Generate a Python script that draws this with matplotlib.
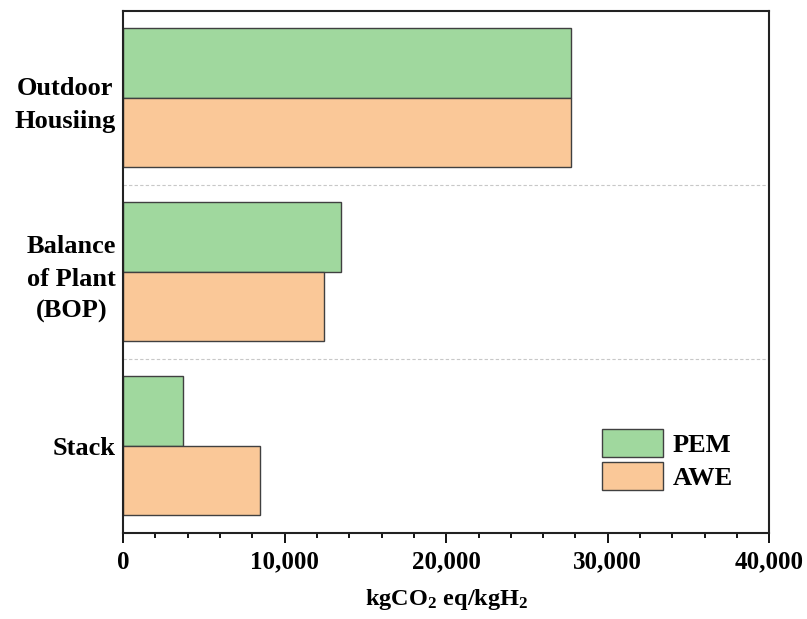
import matplotlib.pyplot as plt
from matplotlib.ticker import MultipleLocator, FuncFormatter
import numpy as np

plt.rcParams['font.family'] = ['Liberation Serif', 'DejaVu Serif']
plt.rcParams['font.weight'] = 'bold'
plt.rcParams['mathtext.fontset'] = 'custom'
plt.rcParams['mathtext.rm'] = 'Liberation Serif:bold'
plt.rcParams['mathtext.bf'] = 'Liberation Serif:bold'
plt.rcParams['mathtext.it'] = 'Liberation Serif:bold'

# Components, bottom to top
categories = ['Stack', 'Balance\nof Plant\n(BOP)', 'Outdoor\nHousiing']
pem = [3700, 13500, 27700]
awe = [8450, 12450, 27700]

pem_color = '#a0d89e'
awe_color = '#fac898'
edge = '#404040'

fig = plt.figure(figsize=(8.07, 6.19), dpi=100)
ax = fig.add_axes([0.1524, 0.1397, 0.801, 0.8425])

y = np.arange(len(categories))
h = 0.4
ax.barh(y + h / 2, pem, height=h, color=pem_color, edgecolor=edge, linewidth=1, label='PEM')
ax.barh(y - h / 2, awe, height=h, color=awe_color, edgecolor=edge, linewidth=1, label='AWE')

# light separators between component groups
for sep in [0.5, 1.5]:
    ax.axhline(sep, color='#c8c8c8', linestyle=(0, (3, 2)), linewidth=0.8, zorder=0)

ax.set_xlim(0, 40000)
ax.set_ylim(-0.5, 2.5)
ax.set_yticks(y)
ax.set_yticklabels(categories, fontsize=19, fontweight='bold',
                   multialignment='center', linespacing=1.52)
ax.tick_params(axis='y', length=0, pad=5)

ax.xaxis.set_major_locator(MultipleLocator(10000))
ax.xaxis.set_minor_locator(MultipleLocator(2000))
ax.xaxis.set_major_formatter(FuncFormatter(lambda v, p: f'{int(v):,}'))
ax.tick_params(axis='x', which='major', length=7, width=1.3, labelsize=18, pad=6, direction='out')
ax.tick_params(axis='x', which='minor', length=3.8, width=1.3, direction='out')
for lbl in ax.get_xticklabels():
    lbl.set_fontweight('bold')

for s in ax.spines.values():
    s.set_linewidth(1.5)
    s.set_color('#222222')

ax.set_xlabel(r'$\mathbf{kgCO_2\ eq/kgH_2}$', fontsize=17.5, labelpad=10)

ax.legend(loc='upper left', bbox_to_anchor=(0.7414, 0.1985), frameon=False,
          handlelength=2.3, handleheight=1.25, labelspacing=0.2,
          handletextpad=0.38, borderpad=0, borderaxespad=0,
          prop={'weight': 'bold', 'size': 19})

fig.savefig('out.png', dpi=100)
